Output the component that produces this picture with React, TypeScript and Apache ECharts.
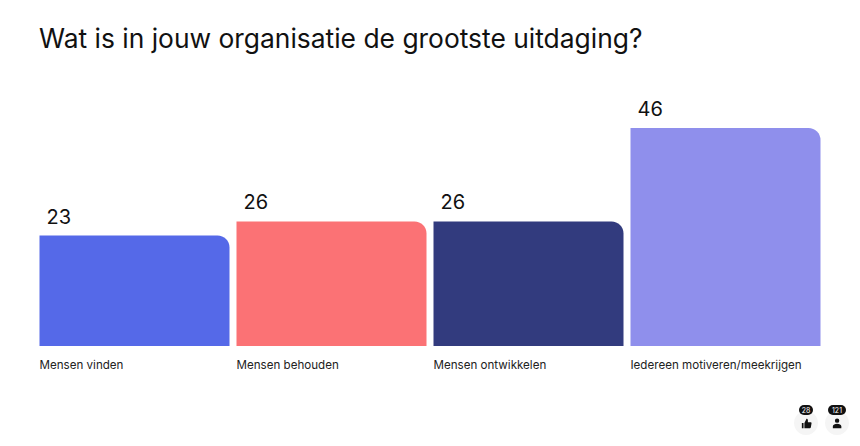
import React, { useEffect, useRef } from "react";
import * as echarts from "echarts";

const categories = ["Mensen vinden", "Mensen behouden", "Mensen ontwikkelen", "Iedereen motiveren/meekrijgen"];
const values = [23, 26, 26, 46];
const barColors = ["#5569E8", "#FB7275", "#323B7E", "#8F8FEC"];
const titleText = "Wat is in jouw organisatie de grootste uitdaging?";
const likes = "28";
const participants = "121";
const FONT = "Inter, 'Noto Sans', sans-serif";

const THUMB = "M1 6h2v6H1z M4 12V6l2.5-5c.9 0 1.6.7 1.6 1.6V5h3.2c.7 0 1.2.6 1.1 1.3l-.8 4.6c-.1.6-.6 1.1-1.2 1.1z";
const PERSON = "M6 0.5a2.6 2.6 0 1 1 0 5.2a2.6 2.6 0 1 1 0-5.2z M1 12v-2.2C1 7.8 3.5 6.8 6 6.8s5 1 5 3V12z";
echarts.graphic.registerShape("thumbIcon", (echarts.graphic as any).extendPath(THUMB, {}));
echarts.graphic.registerShape("personIcon", (echarts.graphic as any).extendPath(PERSON, {}));

function badge(cx: number, text: string, pillW: number, icon: string) {
  return [
    { type: "circle", shape: { cx, cy: 423, r: 12 }, style: { fill: "#F5F5F5" } },
    { type: icon, x: cx - 5, y: 418, scaleX: 0.85, scaleY: 0.85, style: { fill: "#111111" } },
    { type: "rect", shape: { x: cx - pillW / 2, y: 405, width: pillW, height: 10, r: 5 }, style: { fill: "#111111" } },
    { type: "text", x: cx, y: 410, style: { text, fill: "#FFFFFF", font: `7px ${FONT}`, textAlign: "center", textVerticalAlign: "middle" } },
  ];
}

export default function App() {
  const ref = useRef<HTMLDivElement>(null);
  useEffect(() => {
    document.body.style.margin = "0";
    document.body.style.background = "#fff";
    const chart = echarts.init(ref.current!, undefined, { renderer: "svg" });
    chart.setOption({
      animation: false,
      backgroundColor: "#FFFFFF",
      title: {
        text: titleText,
        left: 39,
        top: 25,
        padding: 0,
        textStyle: { fontFamily: FONT, fontSize: 26.4, fontWeight: 400, color: "#111111" },
      },
      grid: { left: 36, right: 36, top: 128, bottom: 100, containLabel: false },
      xAxis: {
        type: "category",
        data: categories,
        axisLine: { show: false },
        axisTick: { show: false },
        axisLabel: {
          interval: 0,
          margin: 13,
          align: "center",
          formatter: (v: string) => `{a|${v}}`,
          rich: { a: { width: 190, align: "left", fontFamily: FONT, fontSize: 11.6, color: "#222222" } },
        },
      },
      yAxis: { type: "value", min: -0.64, max: 46, startValue: -0.64, show: false, splitLine: { show: false } },
      series: [
        {
          type: "bar",
          barWidth: 190,
          data: values.map((value, i) => ({ value, itemStyle: { color: barColors[i] } })),
          itemStyle: { borderRadius: [0, 12, 0, 0] },
          label: {
            show: true,
            position: [7, -29],
            align: "left",
            fontFamily: FONT,
            fontSize: 20,
            color: "#111111",
          },
        },
      ],
      graphic: [...badge(806, likes, 14, "thumbIcon"), ...badge(837, participants, 18, "personIcon")],
    });
    return () => chart.dispose();
  }, []);
  return <div ref={ref} style={{ width: 860, height: 446 }} />;
}
